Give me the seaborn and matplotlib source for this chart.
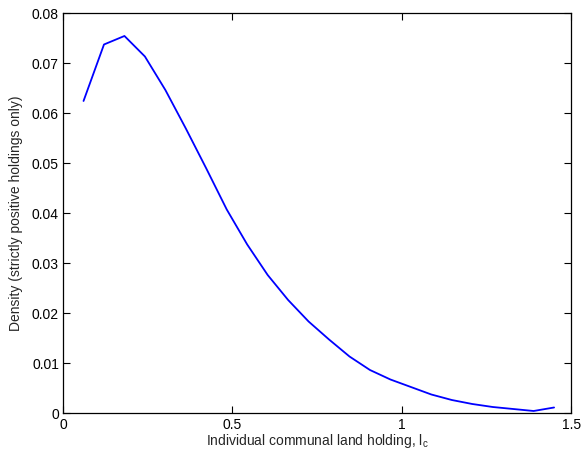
import matplotlib
matplotlib.use("Agg")
import matplotlib.pyplot as plt
import seaborn as sns
import pandas as pd

# Kernel density estimate of strictly positive communal land holdings
holding = [0.0604, 0.1208, 0.1812, 0.2416, 0.3020, 0.3624, 0.4228, 0.4832,
           0.5436, 0.6040, 0.6644, 0.7248, 0.7852, 0.8456, 0.9060, 0.9664,
           1.0268, 1.0872, 1.1476, 1.2080, 1.2684, 1.3288, 1.3892, 1.4496]
density = [0.0625, 0.0738, 0.0755, 0.0714, 0.0647, 0.0570, 0.0490, 0.0408,
           0.0338, 0.0277, 0.0227, 0.0184, 0.0148, 0.0114, 0.0087, 0.0068,
           0.0053, 0.0038, 0.0027, 0.0019, 0.0013, 0.0009, 0.0005, 0.0012]

x_ticks = [0, 0.5, 1, 1.5]
x_tick_labels = ["0", "0.5", "1", "1.5"]
y_ticks = [0, 0.01, 0.02, 0.03, 0.04, 0.05, 0.06, 0.07, 0.08]
y_tick_labels = ["0", "0.01", "0.02", "0.03", "0.04", "0.05", "0.06", "0.07", "0.08"]

sns.set_style("ticks")
plt.rcParams["font.family"] = ["Liberation Sans", "DejaVu Sans"]
plt.rcParams["mathtext.fontset"] = "custom"
plt.rcParams["mathtext.rm"] = "Liberation Sans"
plt.rcParams["mathtext.it"] = "Liberation Sans"

df = pd.DataFrame({"holding": holding, "density": density})

fig = plt.figure(figsize=(5.84, 4.57), dpi=100)
ax = fig.add_axes([0.108, 0.0952, 0.870, 0.8753])
sns.lineplot(data=df, x="holding", y="density", color=(0, 0, 1), linewidth=1.3, ax=ax)

ax.set_xlim(0, 1.5)
ax.set_ylim(0, 0.08)
ax.set_xticks(x_ticks)
ax.set_xticklabels(x_tick_labels)
ax.set_yticks(y_ticks)
ax.set_yticklabels(y_tick_labels)
ax.tick_params(direction="in", length=5, width=0.8, labelsize=10, top=True, right=True,
               colors="black", pad=3)
for side in ax.spines.values():
    side.set_visible(True)
    side.set_linewidth(0.9)
    side.set_color("black")
ax.set_xlabel(r"Individual communal land holding, l$_{\mathrm{c}}$", fontsize=10, labelpad=0.5)
ax.set_ylabel("Density (strictly positive holdings only)", fontsize=10, labelpad=6)

fig.savefig("out.png", dpi=100)
